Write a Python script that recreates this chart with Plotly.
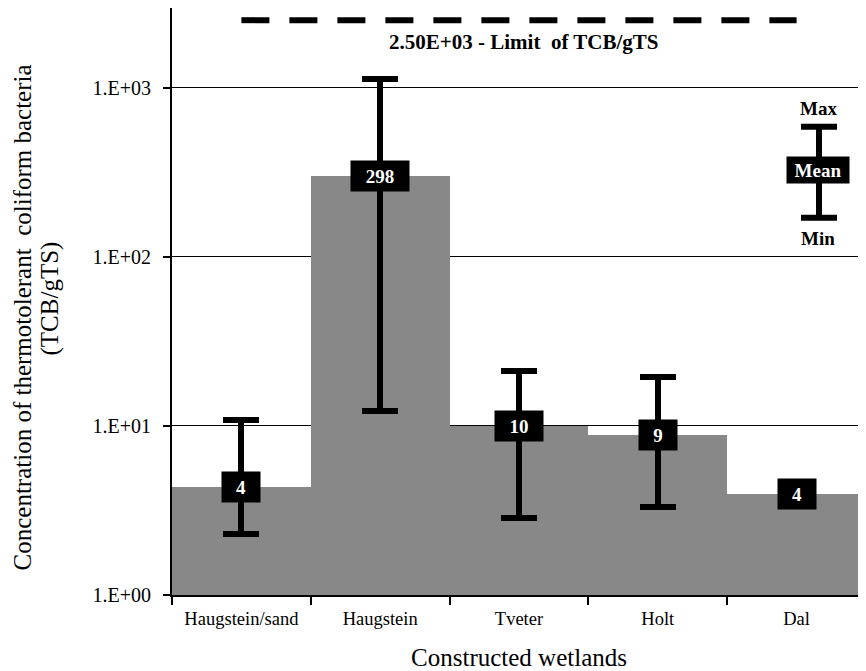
import plotly.graph_objects as go
import math

categories = ["Haugstein/sand", "Haugstein", "Tveter", "Holt", "Dal"]
mean_vals = [4.35, 298, 10, 8.8, 3.94]
max_vals = [10.9, 1120, 21, 19.4, 3.94]
min_vals = [2.29, 12.2, 2.86, 3.32, 3.94]
limit_value = 2500
ytick_vals = [1, 10, 100, 1000]
ytick_text = ["1.E+00", "1.E+01", "1.E+02", "1.E+03"]
ytitle_lines = ["Concentration of thermotolerant  coliform bacteria", "(TCB/gTS)"]

FONT = "Liberation Serif, Times New Roman, DejaVu Serif, serif"

# page has an 8px body margin; plot area target (window px): left 172, top 7, right 866, bottom 595
OFF = 8
L, T, R, B = 172 - OFF, 7 - OFF, 866 - OFF, 595 - OFF
W, H = 866, 671

fig = go.Figure()

fig.add_trace(go.Bar(
    x=categories, y=mean_vals,
    marker=dict(color="#888888", line=dict(width=0)),
    error_y=dict(type="data", symmetric=False,
                 array=[mx - m for mx, m in zip(max_vals, mean_vals)],
                 arrayminus=[m - mn for m, mn in zip(mean_vals, min_vals)],
                 color="black", thickness=6, width=18),
    showlegend=False, hoverinfo="skip",
))

fig.add_trace(go.Scatter(
    x=[categories[0], categories[-1]], y=[limit_value, limit_value],
    mode="lines", line=dict(color="black", width=6, dash="28px,20px"),
    showlegend=False, hoverinfo="skip", cliponaxis=False,
))

annotations = []
for c, m in zip(categories, mean_vals):
    txt = str(int(round(m)))
    annotations.append(dict(
        x=c, y=math.log10(m), xref="x", yref="y", text="<b>%s</b>" % txt,
        showarrow=False, bgcolor="black", font=dict(family=FONT, size=19, color="white"),
        width=26 + 10 * len(txt), height=28, borderpad=1,
        xanchor="center", yanchor="middle",
    ))

annotations.append(dict(
    x=2.03, y=math.log10(limit_value) - 0.13, xref="x", yref="y",
    text="<b>%s - Limit  of TCB/gTS</b>" % ("%.2E" % limit_value),
    showarrow=False, font=dict(family=FONT, size=21, color="black"),
    xanchor="center", yanchor="middle",
))

pw = 866 - 172
ph = 595 - 7

def px(xp):
    return (xp - 172) / pw

def py(yp):
    return (595 - yp) / ph

shapes = [
    dict(type="line", xref="paper", yref="paper", x0=px(819), x1=px(819), y0=py(126), y1=py(217),
         line=dict(color="black", width=6)),
    dict(type="line", xref="paper", yref="paper", x0=px(801), x1=px(837), y0=py(126), y1=py(126),
         line=dict(color="black", width=6)),
    dict(type="line", xref="paper", yref="paper", x0=px(801), x1=px(837), y0=py(217), y1=py(217),
         line=dict(color="black", width=6)),
]
annotations.append(dict(x=px(818), y=py(169), xref="paper", yref="paper", text="<b>Mean</b>",
                        showarrow=False, bgcolor="black", width=60, height=24, borderpad=1,
                        xanchor="center", yanchor="middle",
                        font=dict(family=FONT, size=19, color="white")))
annotations.append(dict(x=px(818), y=py(108), xref="paper", yref="paper", text="<b>Max</b>",
                        showarrow=False, xanchor="center", yanchor="middle",
                        font=dict(family=FONT, size=19, color="black")))
annotations.append(dict(x=px(818), y=py(238), xref="paper", yref="paper", text="<b>Min</b>",
                        showarrow=False, xanchor="center", yanchor="middle",
                        font=dict(family=FONT, size=19, color="black")))

# y-axis title as two rotated lines
annotations.append(dict(x=px(22), y=py(317), xref="paper", yref="paper", text=ytitle_lines[0],
                        textangle=-90, showarrow=False, xanchor="center", yanchor="middle",
                        font=dict(family=FONT, size=25, color="black")))
annotations.append(dict(x=px(50), y=py(298), xref="paper", yref="paper", text=ytitle_lines[1],
                        textangle=-90, showarrow=False, xanchor="center", yanchor="middle",
                        font=dict(family=FONT, size=25, color="black")))

fig.update_layout(
    width=W, height=H,
    margin=dict(l=L, r=W - R, t=max(T, 0), b=H - B, pad=0),
    plot_bgcolor="white", paper_bgcolor="white",
    bargap=0,
    font=dict(family=FONT, size=18, color="black"),
    shapes=shapes, annotations=annotations,
    xaxis=dict(
        title=dict(text="Constructed wetlands", font=dict(family=FONT, size=25), standoff=20),
        showline=True, linecolor="black", linewidth=2,
        ticks="outside", ticklen=8, tickwidth=2, tickcolor="black",
        tickson="boundaries", showgrid=False, range=[-0.5, 4.5],
        tickfont=dict(family=FONT, size=18.5), ticklabelstandoff=6,
    ),
    yaxis=dict(
        type="log", range=[0, 3.47],
        tickvals=ytick_vals, ticktext=ytick_text,
        showline=True, linecolor="black", linewidth=2,
        ticks="outside", ticklen=7, tickwidth=2, tickcolor="black",
        showgrid=True, gridcolor="black", gridwidth=1,
        tickfont=dict(family=FONT, size=20), zeroline=False, ticklabelstandoff=8,
    ),
)

fig.write_html("out.html")
